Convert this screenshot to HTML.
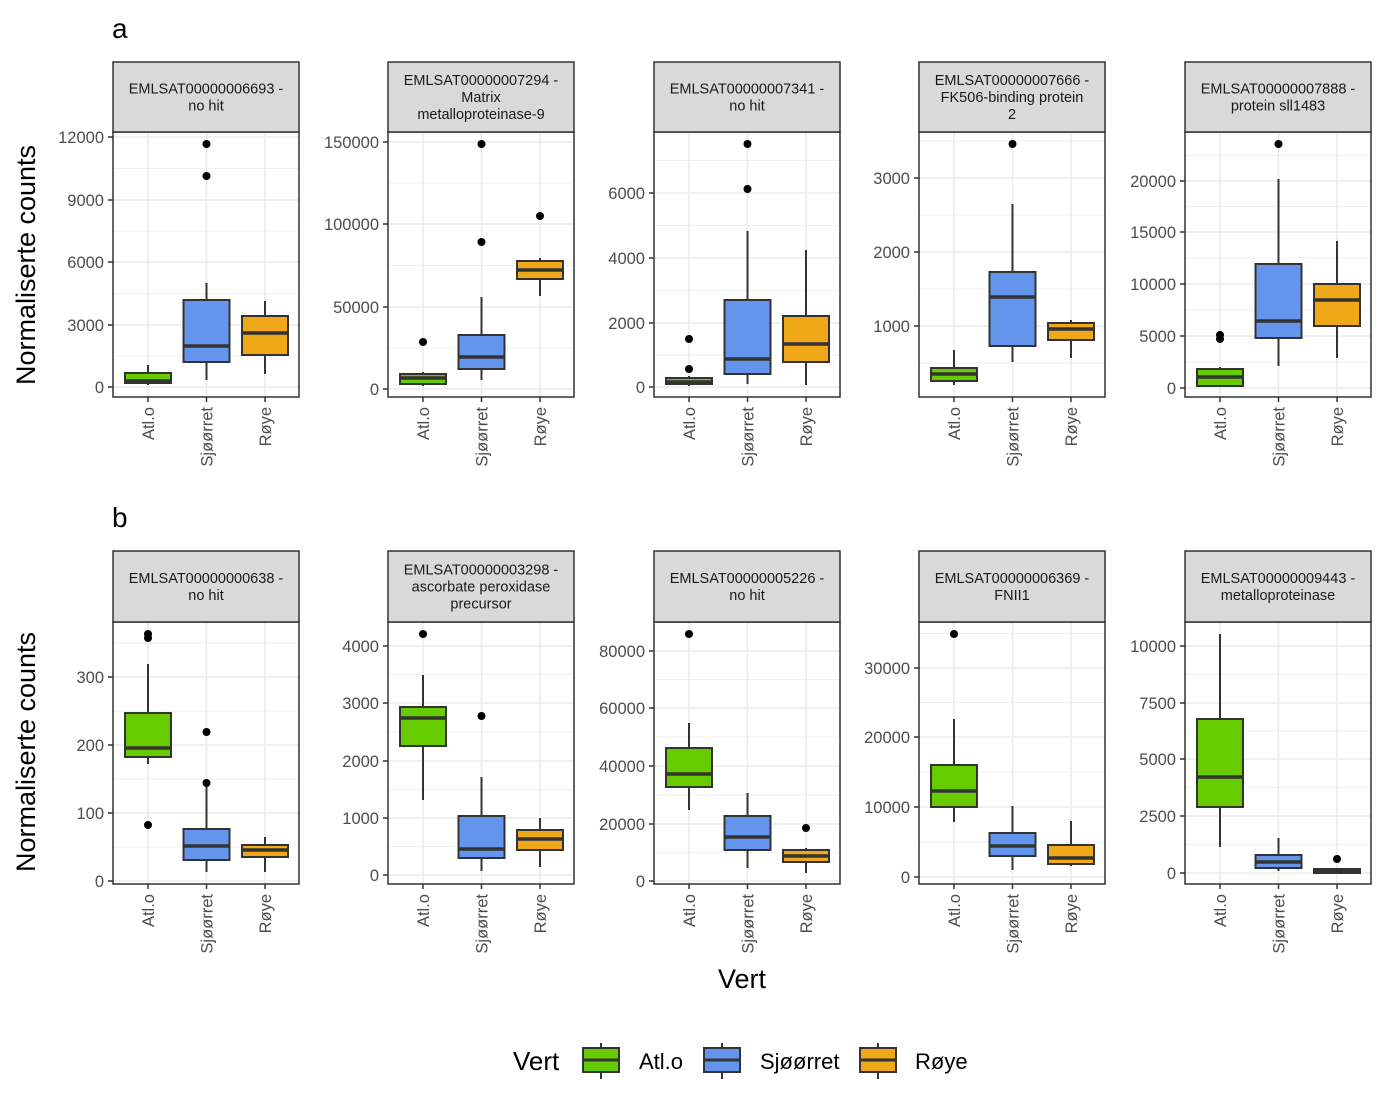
<!DOCTYPE html>
<html><head><meta charset="utf-8"><style>body{margin:0;background:#fff}svg{display:block}text{font-family:"Liberation Sans",Arial,sans-serif}</style></head>
<body>
<svg id="s" width="1386" height="1112" xmlns="http://www.w3.org/2000/svg"></svg>
<script>
const C=['#66CC00','#6495ED','#EEA818'];
const P=[
 {x:113,st:62,top:132,bot:397,strip:["EMLSAT00000006693 -","no hit"],ticks:[[12000,137],[9000,200],[6000,262],[3000,325],[0,387]],
  b:[[373,383,381,365,385,[]],[300,362,346,283,380,[144,176]],[316,355,333,301,374,[]]]},
 {x:388,st:62,top:132,bot:397,strip:["EMLSAT00000007294 -","Matrix","metalloproteinase-9"],ticks:[[150000,142],[100000,224],[50000,307],[0,389]],
  b:[[374,384,378,372,386,[342]],[335,369,357,297,380,[144,242]],[261,279,270,258,296,[216]]]},
 {x:654,st:62,top:132,bot:397,strip:["EMLSAT00000007341 -","no hit"],ticks:[[6000,193],[4000,258],[2000,323],[0,387]],
  b:[[378,384,382,376,386,[339,369]],[300,374,359,231,384,[144,189]],[316,362,344,250,385,[]]]},
 {x:919,st:62,top:132,bot:397,strip:["EMLSAT00000007666 -","FK506-binding protein","2"],ticks:[[3000,178],[2000,252],[1000,326]],
  b:[[368,381,374,350,385,[]],[272,346,297,204,362,[144]],[323,340,329,320,358,[]]]},
 {x:1185,st:62,top:132,bot:397,strip:["EMLSAT00000007888 -","protein sll1483"],ticks:[[20000,181],[15000,232],[10000,284],[5000,336],[0,388]],
  b:[[369,386,377,367,387,[335,339]],[264,338,321,179,366,[144]],[284,326,300,241,358,[]]]},
 {x:113,st:551,top:622,bot:884,strip:["EMLSAT00000000638 -","no hit"],ticks:[[300,677],[200,745],[100,813],[0,881]],
  b:[[713,757,748,664,764,[634,638,825]],[829,860,846,784,872,[732,783]],[845,857,850,837,872,[]]]},
 {x:388,st:551,top:622,bot:884,strip:["EMLSAT00000003298 -","ascorbate peroxidase","precursor"],ticks:[[4000,646],[3000,703],[2000,761],[1000,818],[0,875]],
  b:[[707,746,718,675,800,[634]],[816,858,849,777,871,[716]],[830,850,839,818,867,[]]]},
 {x:654,st:551,top:622,bot:884,strip:["EMLSAT00000005226 -","no hit"],ticks:[[80000,651],[60000,708],[40000,766],[20000,824],[0,881]],
  b:[[748,787,774,723,810,[634]],[816,850,837,793,868,[]],[850,862,856,848,873,[828]]]},
 {x:919,st:551,top:622,bot:884,strip:["EMLSAT00000006369 -","FNII1"],ticks:[[30000,668],[20000,737],[10000,807],[0,877]],
  b:[[765,807,791,719,822,[634]],[833,856,846,806,870,[]],[845,864,858,821,866,[]]]},
 {x:1185,st:551,top:622,bot:884,strip:["EMLSAT00000009443 -","metalloproteinase"],ticks:[[10000,646],[7500,703],[5000,759],[2500,816],[0,873]],
  b:[[719,807,777,634,847,[]],[855,868,862,838,871,[]],[869,873,871,868,874,[859]]]}
];
let h='';
const names=['Atl.o','Sjøørret','Røye'];
for(const p of P){
 const x0=p.x,x1=p.x+186;
 const t=p.ticks; const d=t.length>1?(t[1][1]-t[0][1]):0;
 let ys=[];for(const k of t)ys.push(k[1]);
 for(let y=t[0][1]-d/2;y>p.top;y-=d)ys.push(y);
 for(let i=0;i<t.length-1;i++)ys.push((t[i][1]+t[i+1][1])/2);
 let y=t[t.length-1][1]+d/2; while(y<p.bot){ys.push(y);y+=d;}
 for(let i=0;i<ys.length;i++){const yy=ys[i];if(yy<=p.top||yy>=p.bot)continue;const maj=i<t.length;h+=`<line x1="${x0}" x2="${x1}" y1="${yy}" y2="${yy}" stroke="#ebebeb" stroke-width="${maj?1.6:0.8}"/>`;}
 for(let j=0;j<3;j++){const cx=x0+35+58.5*j;h+=`<line x1="${cx}" x2="${cx}" y1="${p.top}" y2="${p.bot}" stroke="#ebebeb" stroke-width="1.6"/>`;}
 p.b.forEach((b,j)=>{const cx=x0+35+58.5*j;
  h+=`<line x1="${cx}" x2="${cx}" y1="${b[3]}" y2="${b[4]}" stroke="#333" stroke-width="2"/>`;
  h+=`<rect x="${cx-23}" y="${b[0]}" width="46" height="${Math.max(b[1]-b[0],2)}" fill="${C[j]}" stroke="#333" stroke-width="2"/>`;
  h+=`<line x1="${cx-23}" x2="${cx+23}" y1="${b[2]}" y2="${b[2]}" stroke="#333" stroke-width="3.5"/>`;
  for(const o of b[5])h+=`<circle cx="${cx}" cy="${o}" r="4" fill="#000"/>`;
  h+=`<line x1="${cx}" x2="${cx}" y1="${p.bot}" y2="${p.bot+5}" stroke="#333" stroke-width="1.5"/>`;
  h+=`<text transform="translate(${cx+6},${p.bot+10}) rotate(-90)" text-anchor="end" font-size="16.5" fill="#4d4d4d">${names[j]}</text>`;
 });
 for(const k of t){h+=`<line x1="${x0-5}" x2="${x0}" y1="${k[1]}" y2="${k[1]}" stroke="#333" stroke-width="1.5"/>`;
  h+=`<text x="${x0-9}" y="${k[1]+6}" text-anchor="end" font-size="16.5" fill="#4d4d4d">${k[0]}</text>`;}
 h+=`<rect x="${x0}" y="${p.top}" width="186" height="${p.bot-p.top}" fill="none" stroke="#333" stroke-width="1.5"/>`;
 h+=`<rect x="${x0}" y="${p.st}" width="186" height="${p.top-p.st}" fill="#d9d9d9" stroke="#333" stroke-width="1.5"/>`;
 const n=p.strip.length, cy=(p.st+p.top)/2;
 p.strip.forEach((s,i)=>{h+=`<text x="${x0+93}" y="${cy+(i-(n-1)/2)*17+5}" text-anchor="middle" font-size="14.5" fill="#1a1a1a">${s}</text>`;});
}
h+=`<text x="112" y="38" font-size="28">a</text><text x="112" y="527" font-size="28">b</text>`;
h+=`<text transform="translate(35,265) rotate(-90)" text-anchor="middle" font-size="27">Normaliserte counts</text>`;
h+=`<text transform="translate(35,752) rotate(-90)" text-anchor="middle" font-size="27">Normaliserte counts</text>`;
h+=`<text x="742" y="988" text-anchor="middle" font-size="27">Vert</text>`;
h+=`<text x="513" y="1070" font-size="26">Vert</text>`;
const lx=[583,704,860],lt=[[639,'Atl.o'],[760,'Sjøørret'],[915,'Røye']];
lx.forEach((x,i)=>{h+=`<line x1="${x+18}" x2="${x+18}" y1="1043" y2="1079" stroke="#333" stroke-width="2"/><rect x="${x}" y="1048" width="36" height="24" fill="${C[i]}" stroke="#333" stroke-width="2"/><line x1="${x}" x2="${x+36}" y1="1060" y2="1060" stroke="#333" stroke-width="3"/>`;
 h+=`<text x="${lt[i][0]}" y="1069" font-size="22">${lt[i][1]}</text>`;});
document.getElementById('s').innerHTML=h;
</script>
</body></html>
